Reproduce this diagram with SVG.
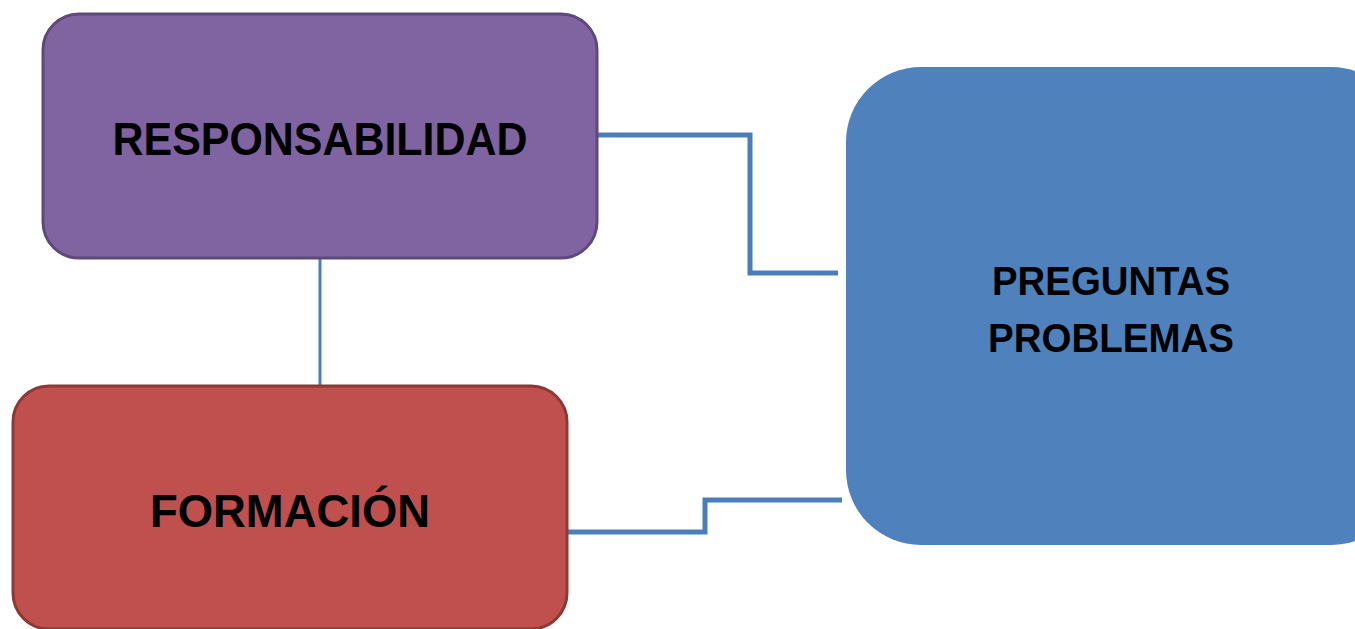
<svg xmlns="http://www.w3.org/2000/svg" width="1355" height="629" viewBox="0 0 1355 629">
<style>
.lbl{font-family:"Liberation Sans",Arial,sans-serif;font-weight:bold;font-size:46px;fill:#000;text-anchor:middle}
.con{fill:none;stroke:#4a7ebb;stroke-linejoin:miter}
</style>
<rect width="1355" height="629" fill="#fff"/>
<g id="connectors">
<polyline class="con" stroke-width="5" points="598,135 750,135 750,273 838,273"/>
<polyline class="con" stroke-width="5" points="568,532 705,532 705,500 842,500"/>
<line class="con" stroke-width="3" x1="320" y1="258" x2="320" y2="386"/>
</g>
<g id="responsabilidad">
<rect x="43" y="14" width="554" height="244" rx="36" fill="#8064a2" stroke="#5c4a7b" stroke-width="3"/>
<text class="lbl" x="320" y="155" textLength="415" lengthAdjust="spacingAndGlyphs">RESPONSABILIDAD</text>
</g>
<g id="formacion">
<rect x="13" y="386" width="554" height="243" rx="36" fill="#c0504d" stroke="#8c3836" stroke-width="3"/>
<text class="lbl" x="290" y="527" textLength="280" lengthAdjust="spacingAndGlyphs">FORMACIÓN</text>
</g>
<g id="preguntas">
<rect x="846" y="67" width="560" height="478" rx="75" fill="#4f81bd"/>
<text class="lbl" x="1111" y="295" font-size="40" style="font-size:40px" textLength="238" lengthAdjust="spacingAndGlyphs">PREGUNTAS</text>
<text class="lbl" x="1111" y="352" style="font-size:40px" textLength="246" lengthAdjust="spacingAndGlyphs">PROBLEMAS</text>
</g>
</svg>
